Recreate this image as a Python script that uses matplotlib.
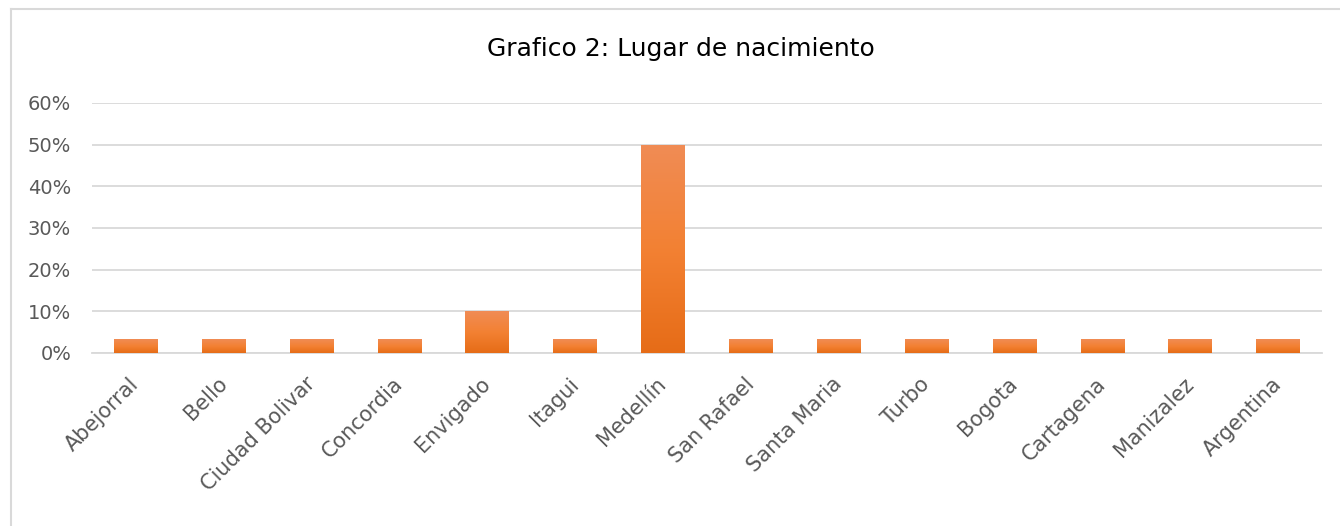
import numpy as np
import matplotlib.pyplot as plt
from matplotlib.colors import LinearSegmentedColormap
from matplotlib.lines import Line2D

lugares = ['Abejorral', 'Bello', 'Ciudad Bolivar', 'Concordia', 'Envigado', 'Itagui',
           'Medellín', 'San Rafael', 'Santa Maria', 'Turbo', 'Bogota', 'Cartagena',
           'Manizalez', 'Argentina']
porcentaje = [1/30, 1/30, 1/30, 1/30, 3/30, 1/30, 15/30, 1/30, 1/30, 1/30, 1/30, 1/30, 1/30, 1/30]
yticks = [0, 0.1, 0.2, 0.3, 0.4, 0.5, 0.6]

fig = plt.figure(figsize=(13.4, 5.26), dpi=100)
ax = fig.add_axes([0.0687, 0.329, 0.918, 0.4755])

# marco del grafico (solo borde izquierdo y superior visibles)
bx, by = 11 / 1340, 1 - 8.5 / 526
fig.lines.append(Line2D([bx, bx], [0, by], transform=fig.transFigure,
                        color='#D9D9D9', linewidth=1.5))
fig.lines.append(Line2D([bx, 1], [by, by], transform=fig.transFigure,
                        color='#D9D9D9', linewidth=1.5))

x = np.arange(len(lugares))
barras = ax.bar(x, porcentaje, width=0.5, color='#ED7D31', zorder=3)

# degradado naranja en cada barra
cmap = LinearSegmentedColormap.from_list('nar', ['#E66C17', '#F38133', '#F08C55'])
grad = np.linspace(0, 1, 256).reshape(-1, 1)
for b in barras:
    x0, y0 = b.get_x(), b.get_y()
    im = ax.imshow(grad, cmap=cmap, origin='lower', aspect='auto',
                   extent=[x0, x0 + b.get_width(), y0, y0 + b.get_height()], zorder=4)
    im.set_clip_path(b)

ax.set_xlim(-0.5, len(lugares) - 0.5)
ax.set_ylim(0, 0.6)
ax.set_yticks(yticks)
ax.set_yticklabels([f'{int(round(v*100))}%' for v in yticks])
ax.set_xticks(x)
ax.set_xticklabels(lugares, rotation=45, ha='right', va='center', rotation_mode='anchor')

ax.grid(axis='y', color='#D9D9D9', linewidth=1.3, zorder=0)
for s in ['top', 'right', 'left']:
    ax.spines[s].set_visible(False)
ax.spines['bottom'].set_color('#D9D9D9')
ax.spines['bottom'].set_linewidth(1.3)
ax.tick_params(axis='both', length=0, colors='#595959')
ax.tick_params(axis='y', pad=15, labelsize=14)
ax.tick_params(axis='x', pad=20, labelsize=15)

fig.text(0.508, 0.907, 'Grafico 2: Lugar de nacimiento', ha='center', va='center',
         fontsize=18, color='#000000')

fig.savefig('out.png', dpi=100)
